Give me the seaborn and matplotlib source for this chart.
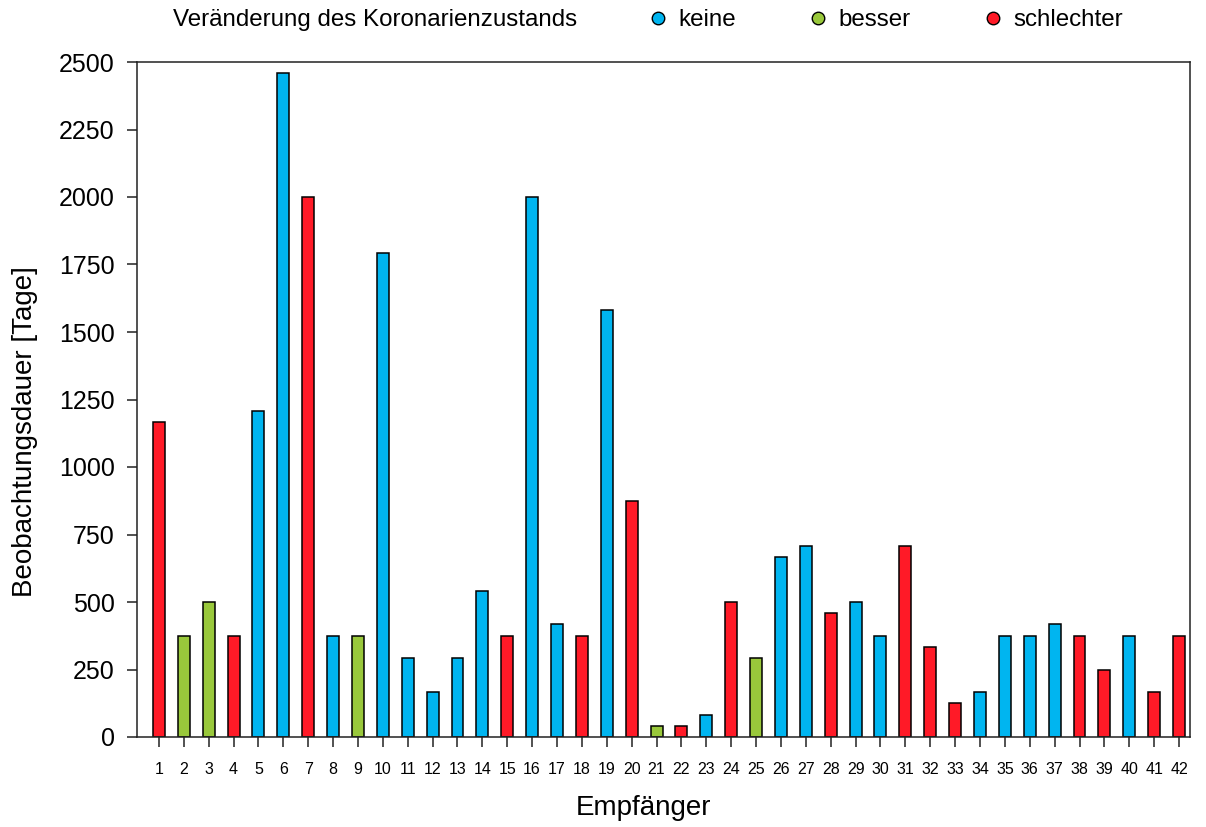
import matplotlib
matplotlib.use("Agg")
import matplotlib.pyplot as plt
from matplotlib.lines import Line2D
import seaborn as sns
import pandas as pd

# Beobachtungsdauer je Empfänger und Veränderung des Koronarienzustands
empfaenger = list(range(1, 43))
dauer = [1167, 375, 500, 375, 1208, 2458, 2000, 375, 375, 1792,
         292, 167, 292, 542, 375, 2000, 417, 375, 1583, 875,
         42, 42, 83, 500, 292, 667, 708, 458, 500, 375,
         708, 333, 125, 167, 375, 375, 417, 375, 250, 375,
         167, 375]
zustand = ["schlechter", "besser", "besser", "schlechter", "keine", "keine", "schlechter", "keine", "besser", "keine",
           "keine", "keine", "keine", "keine", "schlechter", "keine", "keine", "schlechter", "keine", "schlechter",
           "besser", "schlechter", "keine", "schlechter", "besser", "keine", "keine", "schlechter", "keine", "keine",
           "schlechter", "schlechter", "schlechter", "keine", "keine", "keine", "keine", "schlechter", "schlechter", "keine",
           "schlechter", "schlechter"]
kategorien = ["keine", "besser", "schlechter"]
farben = {"keine": "#00B5F0", "besser": "#99C83B", "schlechter": "#FF1A27"}
y_ticks = [0, 250, 500, 750, 1000, 1250, 1500, 1750, 2000, 2250, 2500]

df = pd.DataFrame({"Empfänger": empfaenger, "Dauer": dauer, "Zustand": zustand})

sns.set_style("ticks")
plt.rcParams["font.family"] = ["Liberation Sans", "DejaVu Sans"]
plt.rcParams["text.color"] = "black"
plt.rcParams["axes.labelcolor"] = "black"
plt.rcParams["xtick.color"] = "black"
plt.rcParams["ytick.color"] = "black"

fig = plt.figure(figsize=(12.06, 8.27), dpi=100)
ax = fig.add_axes([137 / 1206, 1 - 737 / 827, (1190 - 137) / 1206, (737 - 62) / 827])

sns.barplot(data=df, x="Empfänger", y="Dauer", hue="Zustand", hue_order=kategorien,
            palette=farben, native_scale=True, dodge=False, width=0.48,
            edgecolor="black", linewidth=1.1, saturation=1, legend=False, ax=ax)

ax.set_xlim(0.12, 42.44)
ax.set_ylim(0, 2500)
ax.set_xticks(empfaenger)
ax.set_xticklabels([str(e) for e in empfaenger], fontsize=11.5)
ax.set_yticks(y_ticks)
ax.set_yticklabels([str(t) for t in y_ticks], fontsize=18)
ax.tick_params(axis="both", direction="out", length=7, width=1.1, color="#222222")
ax.tick_params(axis="x", pad=11)
ax.tick_params(axis="y", pad=9)

for s in ax.spines.values():
    s.set_visible(True)
    s.set_linewidth(1.1)
    s.set_color("#222222")

ax.set_xlabel("Empfänger", fontsize=20, va="center")
ax.set_ylabel("Beobachtungsdauer [Tage]", fontsize=20)
ax.xaxis.set_label_coords((643 - 137) / 1053, (737 - 808) / 675)
ax.yaxis.set_label_coords((38 - 137) / 1053, 0.453)

# Legende in einer Zeile über dem Diagramm
fig.text(173 / 1206, 1 - 20 / 827, "Veränderung des Koronarienzustands",
         fontsize=17.4, va="center", ha="left")
handles = [Line2D([], [], linestyle="none", marker="o", markersize=9,
                  markerfacecolor=farben[k], markeredgecolor="black", markeredgewidth=1.0)
           for k in kategorien]
fig.legend(handles, kategorien, loc="center left",
           bbox_to_anchor=(648 / 1206, 1 - 20 / 827), bbox_transform=fig.transFigure,
           ncol=3, frameon=False, fontsize=17.4, handlelength=0.8, handletextpad=0.45,
           columnspacing=3.0, borderpad=0, borderaxespad=0)

fig.savefig("out.png", dpi=100)
